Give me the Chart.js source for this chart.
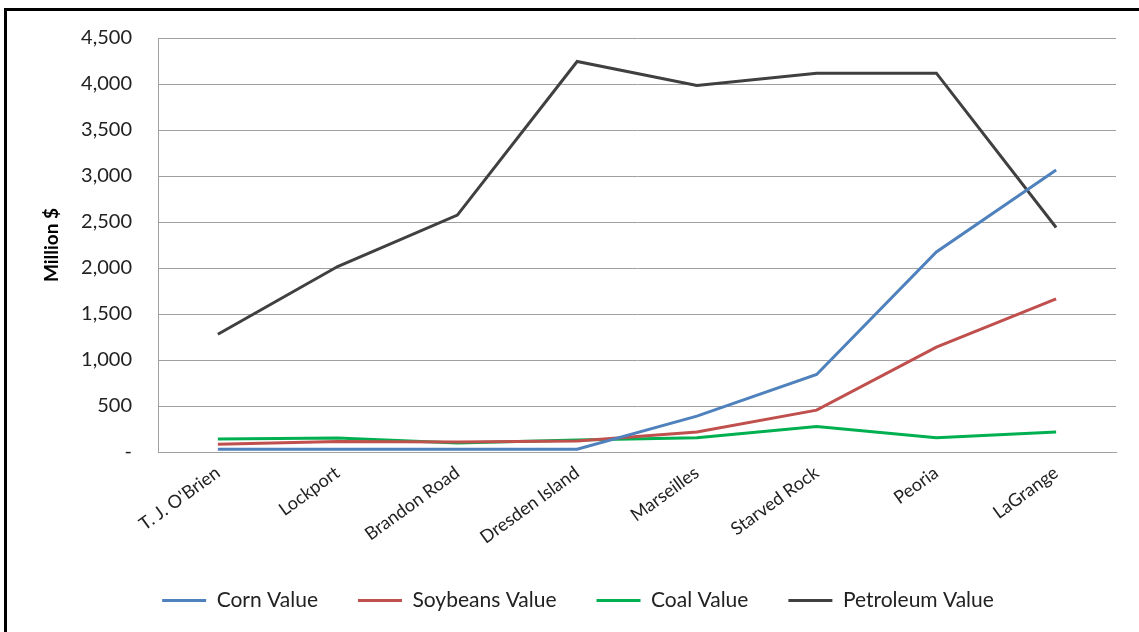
<!DOCTYPE html>
<html>
<head>
<meta charset="utf-8">
<script src="https://cdn.jsdelivr.net/npm/chart.js@4.4.1/dist/chart.umd.min.js"></script>
<style>
  html, body { margin: 0; padding: 0; background: #fff; }
  #wrap { position: relative; width: 1139px; height: 632px; overflow: hidden; }
  #frame { position: absolute; left: 4px; top: 8px; width: 1200px; height: 700px;
           border-left: 3px solid #000; border-top: 3px solid #000; pointer-events: none; }
</style>
</head>
<body>
<div id="wrap">
  <canvas id="myChart" width="1139" height="632"></canvas>
  <div id="frame"></div>
</div>
<script>
// locks / stations along the river
var locks = ["T. J. O'Brien", "Lockport", "Brandon Road", "Dresden Island", "Marseilles", "Starved Rock", "Peoria", "LaGrange"];

// million $ per lock
var cornValue      = [30, 30, 30, 30, 390, 842, 2175, 3065];
var soybeansValue  = [85, 115, 108, 120, 218, 455, 1140, 1665];
var coalValue      = [140, 152, 98, 130, 155, 276, 155, 217];
var petroleumValue = [1280, 2016, 2575, 4245, 3984, 4118, 4118, 2440];

var yTicks = [0, 500, 1000, 1500, 2000, 2500, 3000, 3500, 4000, 4500];

function lineSet(label, data, color) {
    return {
        label: label,
        data: data,
        borderColor: color,
        backgroundColor: color,
        borderWidth: 3,
        pointRadius: 0,
        pointHoverRadius: 0,
        tension: 0,
        fill: false
    };
}

// nudge the legend a bit to the right, like the original
const legendShift = {
    id: 'legendShift',
    beforeDraw: function(chart) {
        if (chart.legend && !chart.legend._shifted) {
            chart.legend.left += 15;
            chart.legend.right += 15;
            chart.legend._shifted = true;
        }
    }
};

const ctx = document.getElementById('myChart').getContext('2d');
const myChart = new Chart(ctx, {
    type: 'line',
    data: {
        labels: locks,
        datasets: [
            lineSet('Corn Value', cornValue, '#4F81BD'),
            lineSet('Soybeans Value', soybeansValue, '#C0504D'),
            lineSet('Coal Value', coalValue, '#00B050'),
            lineSet('Petroleum Value', petroleumValue, '#404040')
        ]
    },
    plugins: [legendShift],
    options: {
        responsive: false,
        animation: false,
        layout: {
            padding: { left: 10, right: 23, top: 20, bottom: 11 }
        },
        plugins: {
            tooltip: { enabled: false },
            legend: {
                position: 'bottom',
                labels: {
                    boxWidth: 44,
                    boxHeight: 3,
                    padding: 40,
                    color: '#222',
                    font: { family: 'Lato', size: 21 },
                    generateLabels: function(chart) {
                        var items = Chart.defaults.plugins.legend.labels.generateLabels(chart);
                        items.forEach(function(it) { it.lineWidth = 0; });
                        return items;
                    }
                }
            }
        },
        scales: {
            x: {
                offset: true,
                grid: { display: false, drawTicks: false },
                border: { display: true, color: '#a0a0a0', width: 1 },
                ticks: {
                    color: '#222',
                    font: { family: 'Lato', size: 18 },
                    minRotation: 36,
                    maxRotation: 36,
                    padding: 10
                },
                afterFit: function(axis) { axis.height = 98; }
            },
            y: {
                min: 0,
                max: 4500,
                afterBuildTicks: function(axis) {
                    axis.ticks = yTicks.map(function(v) { return { value: v }; });
                },
                grid: { color: '#a0a0a0', lineWidth: 1, drawTicks: false },
                border: { display: true, color: '#a0a0a0', width: 1 },
                ticks: {
                    color: '#222',
                    font: { family: 'Lato', size: 20 },
                    padding: 26,
                    callback: function(v) { return v === 0 ? '-' : v.toLocaleString('en-US'); }
                },
                title: {
                    display: true,
                    text: 'Million $',
                    color: '#000',
                    font: { family: 'Lato', size: 19, weight: 'bold' },
                    padding: { top: 30, bottom: 0 }
                },
                afterFit: function(axis) { axis.width = 148; }
            }
        }
    }
});
</script>
</body>
</html>
